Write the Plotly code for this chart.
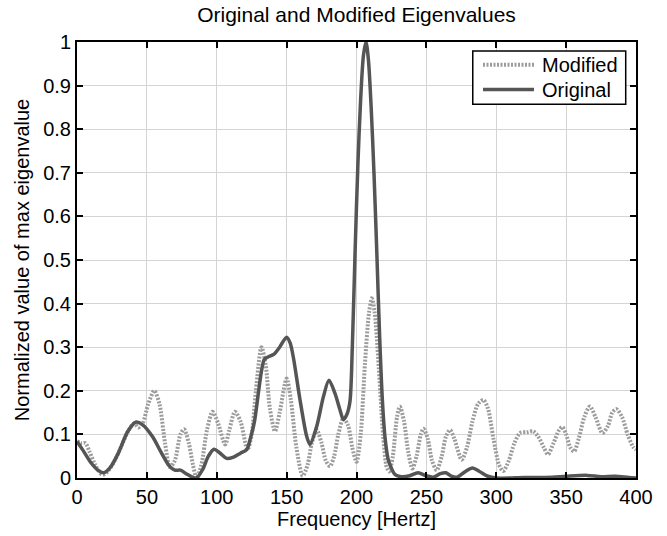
import plotly.graph_objects as go

# Original eigenvalues (frequency in Hz, normalized value)
orig_f = [0, 5, 10, 15, 19, 24, 30, 36, 42, 47, 54, 60, 66, 70, 74, 78, 82, 85.5, 90, 94, 98, 102, 107,
          112, 117, 121.4, 124, 127, 130, 132, 134, 137, 141, 145, 150, 152.5, 154.8, 159.6, 164.4, 166.7,
          171.5, 176.3, 180.3, 184.6, 188.2, 190.6, 193, 195.3, 197, 199, 201, 203, 205, 206.8, 208.5,
          210.5, 212.5, 214.4, 216.5, 218.5, 220.5, 222.5, 224, 227.5, 232, 238, 244, 250, 255, 260, 264,
          268, 272, 278, 283, 288, 294, 300, 320, 340, 350, 365, 375, 385, 395, 400]
orig_v = [0.084, 0.06, 0.035, 0.018, 0.012, 0.025, 0.06, 0.105, 0.128, 0.122, 0.095, 0.06, 0.028, 0.018,
          0.018, 0.01, 0.003, 0.0, 0.02, 0.05, 0.066, 0.058, 0.045, 0.048, 0.057, 0.065, 0.09, 0.13, 0.2,
          0.245, 0.272, 0.278, 0.284, 0.3, 0.323, 0.31, 0.277, 0.179, 0.095, 0.077, 0.118, 0.186, 0.224,
          0.194, 0.156, 0.134, 0.145, 0.175, 0.3, 0.52, 0.72, 0.87, 0.97, 1.0, 0.96, 0.85, 0.7, 0.53,
          0.33, 0.18, 0.09, 0.045, 0.03, 0.008, 0.003, 0.005, 0.012, 0.005, 0.002, 0.01, 0.012, 0.004,
          0.002, 0.015, 0.023, 0.015, 0.004, 0.0, 0.001, 0.002, 0.004, 0.006, 0.003, 0.004, 0.001, 0.0]

# Modified eigenvalues
mod_f = [0, 3, 6, 9, 13, 17, 19, 22, 27, 32, 37, 41, 44, 47, 51, 55.3, 59, 63, 66.5, 70, 74, 76.6, 80, 83,
         85.6, 89, 93, 97, 101, 106, 109, 113, 117, 122, 125, 128, 132, 135, 138, 141.7, 145, 150, 153, 157,
         161.5, 165, 168, 171.5, 175, 178, 181, 184, 187, 190.6, 194, 197, 200, 203, 206, 209, 211, 213,
         216, 219, 221.6, 223.5, 226, 229, 231, 234, 237, 240, 243, 246, 248, 251, 254, 257.4, 261, 264,
         267, 270, 275.3, 279, 283, 287, 290.8, 294, 298, 302, 305, 309, 313, 317, 322, 326.5, 330, 334,
         337, 341, 345, 347.3, 350, 353, 355.7, 359, 363, 367, 371, 376, 380, 383, 386, 390, 394, 398, 400]
mod_v = [0.084, 0.08, 0.08, 0.06, 0.03, 0.01, 0.008, 0.015, 0.04, 0.075, 0.11, 0.125, 0.116, 0.125, 0.17,
         0.2, 0.17, 0.08, 0.025, 0.04, 0.1, 0.112, 0.08, 0.03, 0.0, 0.03, 0.11, 0.152, 0.125, 0.077, 0.11,
         0.152, 0.13, 0.065, 0.1, 0.2, 0.3, 0.26, 0.16, 0.107, 0.15, 0.228, 0.18, 0.07, 0.005, 0.03, 0.08,
         0.11, 0.08, 0.04, 0.027, 0.05, 0.1, 0.137, 0.12, 0.07, 0.037, 0.1, 0.26, 0.38, 0.412, 0.38, 0.25,
         0.1, 0.025, 0.015, 0.05, 0.14, 0.164, 0.13, 0.06, 0.022, 0.05, 0.1, 0.113, 0.09, 0.04, 0.018,
         0.05, 0.095, 0.11, 0.09, 0.042, 0.07, 0.13, 0.17, 0.179, 0.16, 0.09, 0.03, 0.016, 0.04, 0.08,
         0.103, 0.105, 0.107, 0.095, 0.07, 0.054, 0.08, 0.11, 0.117, 0.1, 0.07, 0.061, 0.09, 0.14, 0.164,
         0.14, 0.103, 0.12, 0.15, 0.158, 0.14, 0.1, 0.071, 0.065]

series_names = ["Modified", "Original"]
title_text = "Original and Modified Eigenvalues"
x_title = "Frequency [Hertz]"
y_title = "Normalized value of max eigenvalue"

FONT = "Liberation Sans, Arial, sans-serif"
MOD_LINE = dict(color="#9c9c9c", width=4, dash="2px,1.5px")
ORIG_LINE = dict(color="#555555", width=3.5)

fig = go.Figure()
fig.add_trace(go.Scatter(x=mod_f, y=mod_v, mode="lines", name=series_names[0], showlegend=False,
                         line=dict(**MOD_LINE, shape="spline", smoothing=0.8)))
fig.add_trace(go.Scatter(x=orig_f, y=orig_v, mode="lines", name=series_names[1], showlegend=False,
                         line=dict(**ORIG_LINE, shape="spline", smoothing=0.8)))

axis_common = dict(showline=True, linecolor="black", linewidth=2, mirror="ticks",
                   ticks="inside", ticklen=6, tickwidth=2, tickcolor="black",
                   showgrid=True, gridcolor="#d4d4d4", gridwidth=1, zeroline=False,
                   tickfont=dict(family=FONT, size=20, color="black"))

# Legend box (MATLAB-style) drawn in paper coordinates
shapes = [
    dict(type="rect", xref="paper", yref="paper", x0=0.708, x1=0.9816, y0=0.857, y1=0.9795,
         line=dict(color="black", width=1.5), fillcolor="white", layer="above"),
    dict(type="line", xref="paper", yref="paper", x0=0.7263, x1=0.8175, y0=0.9477, y1=0.9477,
         line=MOD_LINE, layer="above"),
    dict(type="line", xref="paper", yref="paper", x0=0.7263, x1=0.8175, y0=0.8909, y1=0.8909,
         line=ORIG_LINE, layer="above"),
]
annotations = [
    dict(text=series_names[0], xref="paper", yref="paper", x=0.8283, y=0.9477, xanchor="left",
         yanchor="middle", showarrow=False, font=dict(family=FONT, size=20, color="black")),
    dict(text=series_names[1], xref="paper", yref="paper", x=0.8283, y=0.8909, xanchor="left",
         yanchor="middle", showarrow=False, font=dict(family=FONT, size=20, color="black")),
]

fig.update_layout(
    width=667, height=536,
    margin=dict(l=77, r=31, t=42, b=54),
    paper_bgcolor="white", plot_bgcolor="white",
    title=dict(text=title_text, xref="paper", x=0.5, xanchor="center", y=0.972, yanchor="middle",
               font=dict(family=FONT, size=21, color="black")),
    xaxis=dict(range=[0, 400], dtick=50, tick0=0,
               title=dict(text=x_title, font=dict(family=FONT, size=20, color="black"), standoff=2),
               **axis_common),
    yaxis=dict(range=[0, 1], dtick=0.1, tick0=0,
               title=dict(text=y_title, font=dict(family=FONT, size=20, color="black"), standoff=8),
               **axis_common),
    shapes=shapes,
    annotations=annotations,
    showlegend=False,
)

fig.write_html("out.html")
